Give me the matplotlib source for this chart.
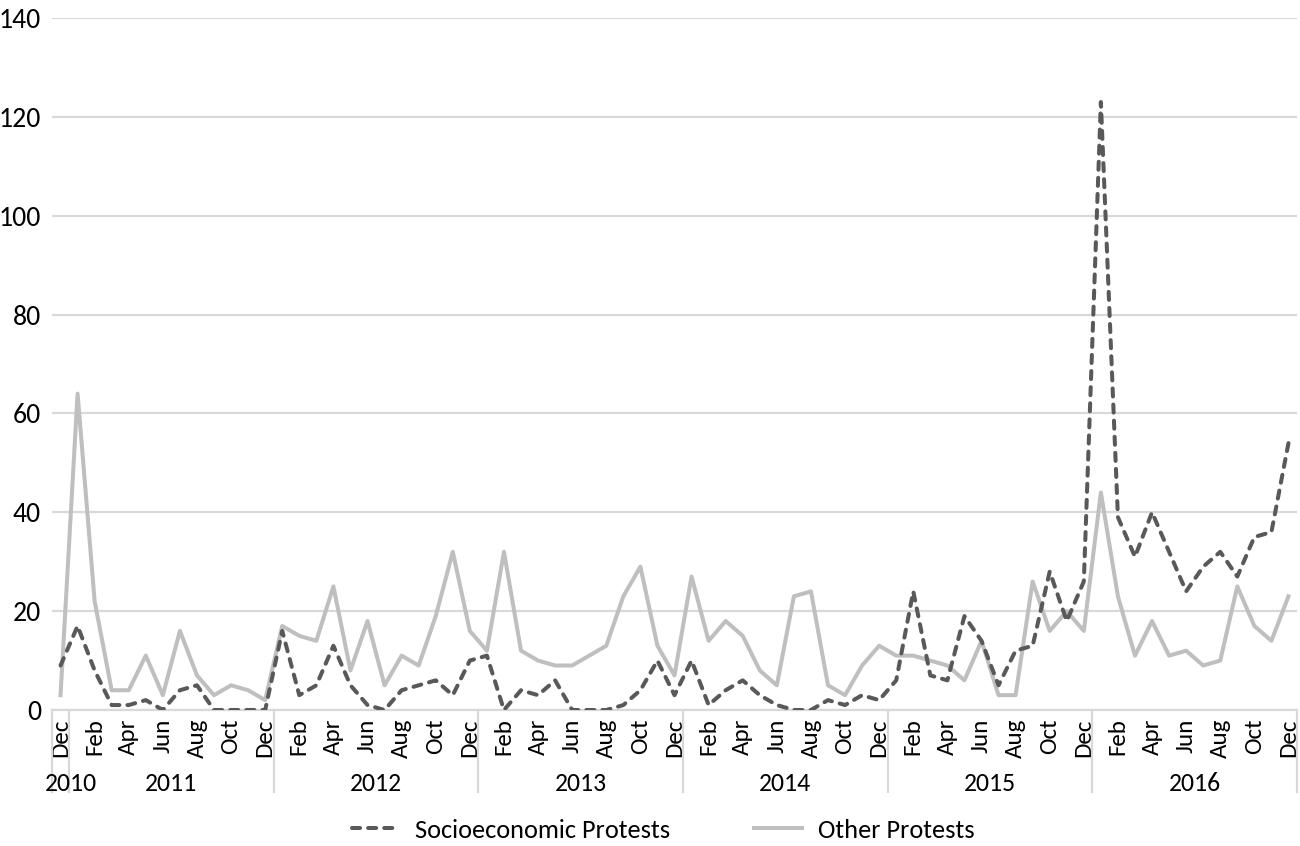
import matplotlib
matplotlib.use("Agg")
import matplotlib.pyplot as plt
import matplotlib.transforms as mtransforms

# monthly counts, Dec 2010 .. Dec 2016
socioeconomic = [9, 17, 8, 1, 1, 2, 0, 4, 5, 0, 0, 0, 0,
                 16, 3, 5, 13, 5, 1, 0, 4, 5, 6, 3, 10,
                 11, 0, 4, 3, 6, 0, 0, 0, 1, 4, 10, 3,
                 10, 1, 4, 6, 3, 1, 0, 0, 2, 1, 3, 2,
                 6, 24, 7, 6, 19, 14, 5, 12, 13, 28, 18, 26,
                 123, 39, 31, 40, 32, 24, 29, 32, 27, 35, 36, 54]
other = [3, 64, 22, 4, 4, 11, 3, 16, 7, 3, 5, 4, 2,
         17, 15, 14, 25, 8, 18, 5, 11, 9, 19, 32, 16,
         12, 32, 12, 10, 9, 9, 11, 13, 23, 29, 13, 7,
         27, 14, 18, 15, 8, 5, 23, 24, 5, 3, 9, 13,
         11, 11, 10, 9, 6, 14, 3, 3, 26, 16, 20, 16,
         44, 23, 11, 18, 11, 12, 9, 10, 25, 17, 14, 23]
month_names = ["Jan", "Feb", "Mar", "Apr", "May", "Jun",
               "Jul", "Aug", "Sep", "Oct", "Nov", "Dec"]
years = ["2010", "2011", "2012", "2013", "2014", "2015", "2016"]

months = ["Dec"] + month_names * 6
year_of = ["2010"] + [y for y in years[1:] for _ in range(12)]
x = list(range(len(months)))

plt.rcParams["font.family"] = ["Carlito", "Lato", "DejaVu Sans"]

fig = plt.figure(figsize=(13, 8.46), dpi=100)
ax = fig.add_axes([52 / 1300, 1 - 710 / 846, 1245 / 1300, 692 / 846])

ax.plot(x, socioeconomic, color="#595959", lw=2.9, ls=(0, (2.0, 2.0)),
        dash_capstyle="round", label="Socioeconomic Protests", zorder=3)
ax.plot(x, other, color="#bfbfbf", lw=2.9, label="Other Protests", zorder=2)

ax.set_xlim(-0.5, len(x) - 0.5)
ax.set_ylim(0, 140)
ax.set_yticks(range(0, 141, 20))
ax.yaxis.grid(True, color="#d9d9d9", lw=1.6)
ax.set_axisbelow(True)
for s in ["top", "right", "left"]:
    ax.spines[s].set_visible(False)
ax.spines["bottom"].set_color("#d9d9d9")
ax.spines["bottom"].set_linewidth(1.6)
ax.tick_params(axis="y", length=0, labelsize=20, pad=8, colors="#000000")

ax.set_xticks(x[::2])
ax.set_xticklabels(months[::2], rotation=90, fontsize=18)
ax.tick_params(axis="x", length=0, pad=6)

trans = mtransforms.blended_transform_factory(ax.transData, ax.transAxes)
bounds = [-0.5, 0.5, 12.5, 24.5, 36.5, 48.5, 60.5, 72.5]
for b in bounds:
    ax.plot([b, b], [0, -0.1185], transform=trans, color="#d9d9d9",
            lw=1.6, clip_on=False)
for yr in years:
    idx = [i for i, y in enumerate(year_of) if y == yr]
    cx = (idx[0] + idx[-1]) / 2
    if yr == "2010":
        cx = 0.6
    ax.text(cx, -0.1055, yr, transform=trans, ha="center", va="center",
            fontsize=18.5)

fig.legend(loc="center", bbox_to_anchor=(0.51, 1 - 830 / 846), ncol=2,
           frameon=False, fontsize=19, handlelength=1.8, handletextpad=0.6,
           columnspacing=3.2)

fig.savefig("out.png", dpi=100)
